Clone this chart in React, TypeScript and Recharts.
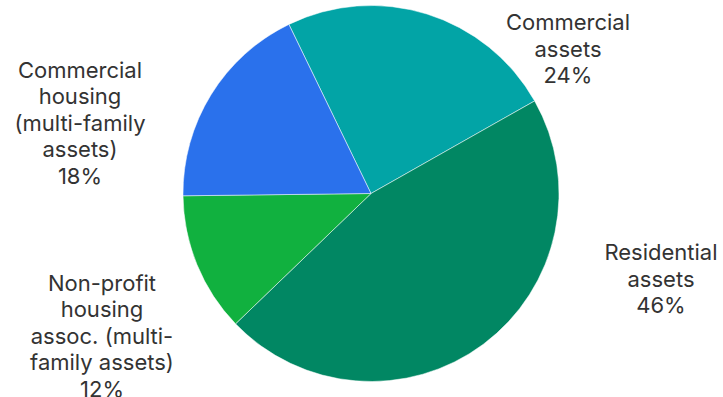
import { PieChart, Pie, Cell } from "recharts";

const categories = [
  "Commercial assets",
  "Residential assets",
  "Non-profit housing assoc. (multi-family assets)",
  "Commercial housing (multi-family assets)",
];
const shares = [24, 46, 12, 18];

// how each label wraps in the reference
const labelLines: Record<string, string[]> = {
  "Commercial assets": ["Commercial", "assets"],
  "Residential assets": ["Residential", "assets"],
  "Non-profit housing assoc. (multi-family assets)": ["Non-profit", "housing", "assoc. (multi-", "family assets)"],
  "Commercial housing (multi-family assets)": ["Commercial", "housing", "(multi-family", "assets)"],
};

const COLORS: Record<string, string> = {
  "Commercial assets": "#02a4a6",
  "Residential assets": "#018763",
  "Non-profit housing assoc. (multi-family assets)": "#11b13f",
  "Commercial housing (multi-family assets)": "#2a71ec",
};

// label block centre, relative to pie centre
const LABEL_OFFSET: Record<string, [number, number]> = {
  "Commercial assets": [197, -145],
  "Residential assets": [290, 85],
  "Non-profit housing assoc. (multi-family assets)": [-269, 142],
  "Commercial housing (multi-family assets)": [-291, -71],
};

const data = categories.map((name, i) => ({ name, value: shares[i] }));

const LINE_H = 26.5;

function renderLabel(props: any) {
  const { cx, cy, name, value } = props;
  const lines = [...(labelLines[name] ?? [name]), `${value}%`];
  const [dx, dy] = LABEL_OFFSET[name] ?? [0, 0];
  const x = cx + dx;
  const y0 = cy + dy - ((lines.length - 1) / 2) * LINE_H;
  return (
    <text
      x={x}
      y={y0}
      textAnchor="middle"
      dominantBaseline="central"
      fill="#333333"
      fontSize={22}
      fontFamily="Inter, sans-serif"
    >
      {lines.map((l, i) => (
        <tspan key={i} x={x} y={y0 + i * LINE_H}>
          {l}
        </tspan>
      ))}
    </text>
  );
}

export default function App() {
  return (
    <div style={{ position: "absolute", left: 0, top: 0, background: "#fff" }}>
      <PieChart width={723} height={397} margin={{ top: 0, right: 0, bottom: 0, left: 0 }}>
        <Pie
          data={data}
          dataKey="value"
          nameKey="name"
          cx={371}
          cy={193.5}
          outerRadius={188}
          startAngle={115.9}
          endAngle={-244.1}
          stroke="#ffffff"
          strokeWidth={0.5}
          label={renderLabel}
          labelLine={false}
          isAnimationActive={false}
        >
          {data.map((d) => (
            <Cell key={d.name} fill={COLORS[d.name]} />
          ))}
        </Pie>
      </PieChart>
    </div>
  );
}
